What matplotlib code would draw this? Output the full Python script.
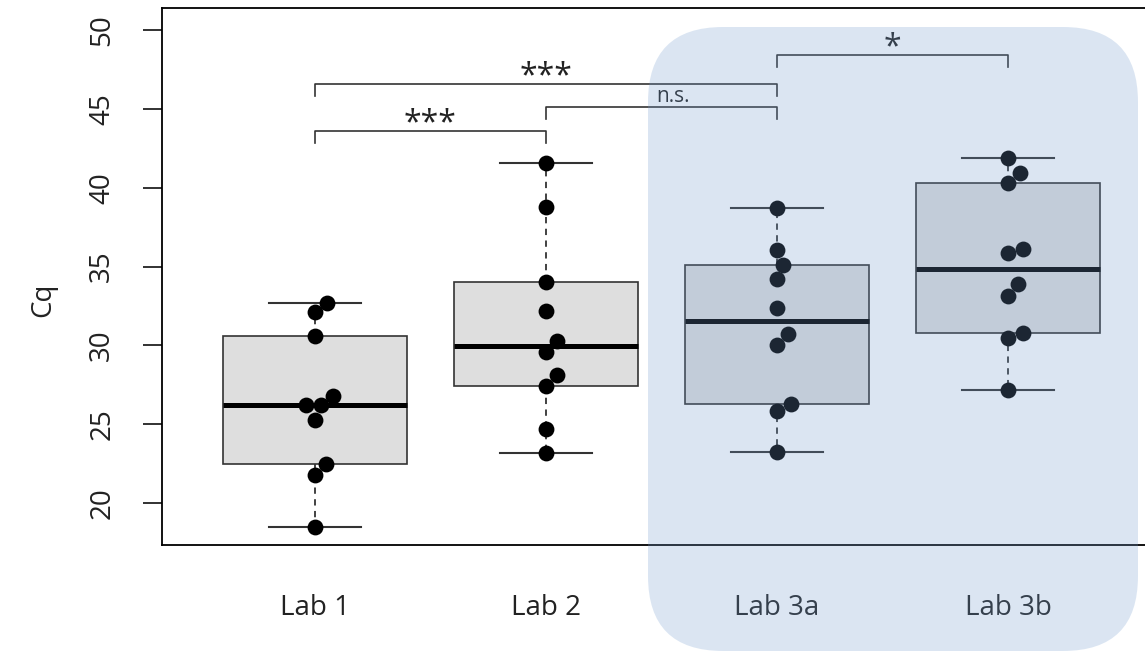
import numpy as np
import matplotlib
matplotlib.use("Agg")
import matplotlib.pyplot as plt
from matplotlib.patches import FancyBboxPatch

plt.rcParams['font.family'] = ['Open Sans', 'DejaVu Sans']

# data (Cq values per lab)
labs = ["Lab 1", "Lab 2", "Lab 3a", "Lab 3b"]
lab1 = [32.7, 32.1, 30.6, 26.8, 26.2, 26.2, 25.3, 22.5, 21.8, 18.5]
lab2 = [41.6, 38.8, 34.0, 32.2, 30.3, 29.6, 28.1, 27.4, 24.7, 23.2]
lab3a = [38.7, 36.05, 35.1, 34.2, 32.4, 30.7, 30.0, 26.3, 25.85, 23.25]
lab3b = [41.9, 40.95, 40.3, 36.1, 35.85, 33.9, 33.15, 30.8, 30.5, 27.2]
groups = [lab1, lab2, lab3a, lab3b]

# significance comparisons (group index pairs) and labels
comparisons = [(0, 1), (1, 2), (0, 2), (2, 3)]
sig_labels = ["***", "n.s.", "***", "*"]
bracket_y = [43.6, 45.1, 46.6, 48.4]


def fivenum(vals):
    # Tukey hinges, like R's boxplot
    x = np.sort(np.asarray(vals, dtype=float))
    n = len(x)
    n4 = np.floor((n + 3) / 2) / 2
    d = np.array([1, n4, (n + 1) / 2, n + 1 - n4, n]) - 1
    return 0.5 * (x[np.floor(d).astype(int)] + x[np.ceil(d).astype(int)])


def swarm_offsets(vals, ax, diam_px):
    # simple beeswarm in pixel space, ascending priority
    order = np.argsort(vals, kind="stable")
    trans = ax.transData
    ypx = np.array([trans.transform((0, v))[1] for v in vals])
    xunit = trans.transform((1, 0))[0] - trans.transform((0, 0))[0]
    placed = []  # (ypx, xpx)
    out = np.zeros(len(vals))
    for i in order:
        cands = [0.0]
        for (yj, xj) in placed:
            dy = abs(ypx[i] - yj)
            if dy < diam_px:
                w = np.sqrt(diam_px ** 2 - dy ** 2)
                cands += [xj + w, xj - w]
        cands = sorted(cands, key=lambda c: (round(abs(c), 6), c < 0))
        for c in cands:
            ok = all((c - xj) ** 2 + (ypx[i] - yj) ** 2 >= diam_px ** 2 - 1e-6
                     for (yj, xj) in placed)
            if ok:
                break
        placed.append((ypx[i], c))
        out[i] = c / xunit
    return out


fig = plt.figure(figsize=(11.45, 6.51), dpi=100)
ax = fig.add_axes([162 / 1145, 1 - 545 / 651, 983 / 1145, 537 / 651])
ax.set_xlim(0.338, 4.593)
ax.set_ylim(17.34, 51.4)
ax.patch.set_alpha(0)

pos = np.arange(1, len(groups) + 1)
stats = []
for lab, g in zip(labs, groups):
    lo, q1, med, q3, hi = fivenum(g)
    stats.append(dict(label=lab, whislo=lo, q1=q1, med=med, q3=q3, whishi=hi))

edge = "#333333"
ax.bxp(stats, positions=pos, widths=0.8, showfliers=False, patch_artist=True,
       boxprops=dict(facecolor="#dedede", edgecolor=edge, linewidth=1.2),
       medianprops=dict(color="black", linewidth=3.6, solid_capstyle="butt"),
       whiskerprops=dict(color=edge, linewidth=1.3, linestyle=(0, (3.5, 3))),
       capprops=dict(color=edge, linewidth=1.5), capwidths=0.4, zorder=2)

for p, g in zip(pos, groups):
    off = swarm_offsets(g, ax, 15.5)
    ax.scatter(p + off, g, s=130, color="black", zorder=4, linewidths=0)

# significance brackets
tick_h = 0.75
for (a, b), lab, yb in zip(comparisons, sig_labels, bracket_y):
    xa, xb = pos[a], pos[b]
    ax.plot([xa, xa, xb, xb], [yb - tick_h, yb, yb, yb - tick_h],
            color="#333333", linewidth=1.2, zorder=3)
    if lab == "n.s.":
        ax.text((xa + xb) / 2 + 0.05, yb + 0.05, lab, ha="center", va="bottom",
                fontsize=15, color="#222222")
    else:
        ax.text((xa + xb) / 2, yb - 0.6, lab, ha="center", va="bottom",
                fontsize=23, color="#222222")

ax.set_yticks([20, 25, 30, 35, 40, 45, 50])
ax.set_xticks(pos)
ax.set_xticklabels(labs)
ax.tick_params(axis="y", length=14, width=1.3, pad=19, labelsize=20,
               labelrotation=90, colors="#222222")
ax.tick_params(axis="x", length=0, pad=35, labelsize=20, colors="#222222")
for lbl in ax.get_yticklabels():
    lbl.set_va("center")
ax.set_ylabel("Cq", fontsize=20, color="#222222")
ax.yaxis.set_label_coords(-0.107, 0.457)

for side in ["left", "top", "bottom"]:
    ax.spines[side].set_linewidth(1.3)
    ax.spines[side].set_color("black")
ax.spines["right"].set_visible(False)

# translucent blue highlight over Lab 3 (rounded box drawn on top)
hl = FancyBboxPatch((648 / 100, 0.0), (1138 - 648) / 100, (651 - 27) / 100,
                    boxstyle="round,pad=0,rounding_size=0.75",
                    transform=fig.dpi_scale_trans, facecolor="#719ace",
                    edgecolor="none", alpha=0.25, zorder=10)
fig.add_artist(hl)

fig.savefig("out.png", dpi=100)
